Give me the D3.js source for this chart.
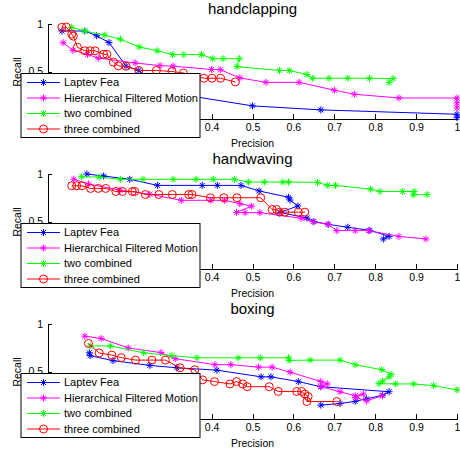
<!DOCTYPE html>
<meta charset="utf-8">
<style>
  body { margin: 0; background: #fff; }
  svg { font-family: "Liberation Sans", Arial, sans-serif; }
  .axis path, .axis line { stroke: #000; shape-rendering: crispEdges; }
  .axis text { font-size: 10.5px; fill: #000; }
  .series { fill: none; stroke-width: 1px; }
</style>
<body>
<div id="chart"></div>
<script src="https://d3js.org/d3.v7.min.js"></script>
<script>
// legend names, colours, markers
const seriesNames = ["Laptev Fea", "Hierarchical Filtered Motion", "two combined", "three combined"];
const seriesColors = ["#0000ff", "#ff00ff", "#00ff00", "#ff0000"];
const seriesMarkers = ["star", "star", "star", "circle"];
const panelTitles = ["handclapping", "handwaving", "boxing"];
const xTicks = [0, 0.1, 0.2, 0.3, 0.4, 0.5, 0.6, 0.7, 0.8, 0.9, 1];
const yTicks = [0, 0.5, 1];

// [precision, recall]
const clapLaptev = [[0.034,0.926],[0.090,0.926],[0.119,0.876],[0.149,0.805],[0.191,0.556],[0.222,0.511],
  [0.298,0.277],[0.500,0.138],[0.667,0.096],[1.0,0.05],[1.0,0.014]];
const clapHFM = [[0.037,0.803],[0.061,0.723],[0.097,0.679],[0.123,0.641],[0.213,0.590],[0.274,0.562],
  [0.306,0.556],[0.400,0.521],[0.421,0.519],[0.469,0.433],[0.533,0.386],[0.614,0.386],[0.700,0.303],
  [0.749,0.261],[0.858,0.221],[1.0,0.221],[1.0,0.17],[1.0,0.117]];
const clapTwo = [[0.058,0.965],[0.090,0.926],[0.139,0.883],[0.177,0.840],[0.223,0.759],[0.267,0.718],
  [0.305,0.678],[0.332,0.678],[0.375,0.678],[0.403,0.635],[0.428,0.635],[0.468,0.635],[0.462,0.551],
  [0.566,0.511],[0.590,0.511],[0.633,0.468],[0.647,0.429],[0.687,0.429],[0.733,0.429],[0.786,0.429],
  [0.844,0.426],[0.834,0.386]];
const clapThree = [[0.034,0.965],[0.045,0.968],[0.058,0.894],[0.062,0.872],[0.072,0.755],[0.090,0.718],
  [0.103,0.718],[0.115,0.718],[0.136,0.681],[0.144,0.681],[0.160,0.599],[0.172,0.559],[0.191,0.555],
  [0.222,0.511],[0.265,0.511],[0.303,0.500],[0.331,0.484],[0.381,0.429],[0.401,0.429],[0.422,0.429],
  [0.458,0.390]];

const waveLaptev = [[0.095,1.0],[0.136,0.979],[0.200,0.944],[0.268,0.880],[0.377,0.880],[0.414,0.880],
  [0.472,0.880],[0.516,0.822],[0.588,0.755],[0.592,0.726],[0.611,0.663],[0.567,0.596],[0.633,0.537],
  [0.650,0.500],[0.685,0.470],[0.733,0.439],[0.787,0.407],[0.834,0.343],[0.820,0.316]];
const waveHFM = [[0.063,0.945],[0.099,0.894],[0.176,0.830],[0.249,0.787],[0.326,0.723],[0.398,0.723],
  [0.432,0.723],[0.469,0.688],[0.498,0.662],[0.461,0.596],[0.482,0.593],[0.518,0.593],[0.619,0.534],
  [0.648,0.497],[0.685,0.471],[0.706,0.404],[0.751,0.404],[0.784,0.404],[0.858,0.343],[0.924,0.316]];
const waveTwo = [[0.082,0.971],[0.125,0.968],[0.177,0.944],[0.232,0.944],[0.306,0.944],[0.362,0.944],
  [0.404,0.944],[0.456,0.944],[0.490,0.915],[0.529,0.915],[0.574,0.915],[0.588,0.915],[0.659,0.912],
  [0.684,0.880],[0.703,0.880],[0.789,0.840],[0.812,0.816],[0.867,0.816],[0.895,0.816],[0.893,0.780],
  [0.927,0.784]];
const waveThree = [[0.058,0.876],[0.070,0.876],[0.083,0.876],[0.104,0.848],[0.123,0.848],[0.141,0.848],
  [0.166,0.816],[0.182,0.816],[0.206,0.816],[0.212,0.816],[0.238,0.784],[0.271,0.784],[0.304,0.784],
  [0.344,0.784],[0.352,0.784],[0.397,0.750],[0.430,0.750],[0.462,0.750],[0.520,0.750],[0.548,0.626],
  [0.559,0.626],[0.566,0.598],[0.579,0.598],[0.612,0.598],[0.628,0.598]];

const boxLaptev = [[0.101,0.697],[0.103,0.667],[0.159,0.614],[0.249,0.564],[0.315,0.539],[0.413,0.514],
  [0.521,0.444],[0.545,0.444],[0.612,0.394],[0.667,0.340],[0.834,0.287],[0.818,0.250],[0.779,0.213],
  [0.751,0.186],[0.714,0.163],[0.667,0.146]];
const boxHFM = [[0.090,0.872],[0.130,0.848],[0.196,0.748],[0.276,0.699],[0.311,0.635],[0.408,0.572],
  [0.447,0.572],[0.515,0.546],[0.548,0.546],[0.592,0.493],[0.667,0.394],[0.683,0.369],[0.667,0.340],
  [0.714,0.287],[0.751,0.245],[0.771,0.263],[0.752,0.227],[0.779,0.191],[0.817,0.245]];
const boxTwo = [[0.103,0.769],[0.153,0.769],[0.234,0.697],[0.303,0.667],[0.364,0.644],[0.465,0.644],
  [0.519,0.644],[0.588,0.644],[0.590,0.617],[0.641,0.620],[0.714,0.620],[0.751,0.571],[0.816,0.519],
  [0.839,0.470],[0.834,0.444],[0.818,0.399],[0.809,0.372],[0.850,0.369],[0.894,0.369],[0.943,0.351],
  [1.0,0.306]];
const boxThree = [[0.099,0.795],[0.125,0.695],[0.156,0.673],[0.179,0.646],[0.214,0.620],[0.254,0.620],
  [0.287,0.620],[0.323,0.539],[0.359,0.518],[0.378,0.412],[0.407,0.394],[0.445,0.369],[0.461,0.394],
  [0.476,0.369],[0.487,0.340],[0.541,0.340],[0.563,0.290],[0.608,0.290],[0.620,0.290],[0.628,0.263],
  [0.636,0.237],[0.633,0.184],[0.706,0.184]];

const panelData = [
  [clapLaptev, clapHFM, clapTwo, clapThree],
  [waveLaptev, waveHFM, waveTwo, waveThree],
  [boxLaptev, boxHFM, boxTwo, boxThree]
];

var width = 460, height = 452, panelH = 150;
var margin = {top: 24, right: 3, bottom: 31, left: 48};
var legendBox = {x: 21, y: 73.5, w: 179, h: 64};

var svg = d3.select("#chart").append("svg")
  .attr("width", width)
  .attr("height", height);

var xScale = d3.scaleLinear().domain([0, 1]).range([margin.left, width - margin.right]);
var yScale = d3.scaleLinear().domain([0, 1]).range([panelH - margin.bottom, margin.top]);

var line = d3.line()
  .x(function(d) { return xScale(d[0]); })
  .y(function(d) { return yScale(d[1]); });

// matlab style '*' marker
var s = 3.5, q = 2.5;
var starPath = "M" + -s + ",0H" + s + "M0," + -s + "V" + s +
  "M" + -q + "," + -q + "L" + q + "," + q + "M" + -q + "," + q + "L" + q + "," + -q;

function marker(g, type, color) {
  if (type == "circle") {
    g.append("circle").attr("r", 4).attr("fill", "none")
      .attr("stroke", color).attr("stroke-width", 1);
  } else {
    g.append("path").attr("d", starPath).attr("fill", "none")
      .attr("stroke", color).attr("stroke-width", 1);
  }
}

panelData.forEach(function(series, p) {
  var g = svg.append("g").attr("transform", "translate(0," + p * panelH + ")");

  var xAxis = d3.axisBottom(xScale)
    .tickValues(xTicks)
    .tickSizeInner(-5)
    .tickSizeOuter(0)
    .tickPadding(5)
    .tickFormat(function(d) { return String(+d.toFixed(1)); });

  var yAxis = d3.axisLeft(yScale)
    .tickValues(yTicks)
    .tickSizeInner(-4)
    .tickSizeOuter(0)
    .tickPadding(5)
    .tickFormat(function(d) { return String(+d.toFixed(1)); });

  var gx = g.append("g").attr("class", "x axis")
    .attr("transform", "translate(0," + yScale(0) + ")")
    .call(xAxis);
  var gy = g.append("g").attr("class", "y axis")
    .attr("transform", "translate(" + xScale(0) + ",0)")
    .call(yAxis);
  g.selectAll(".axis").attr("font-family", null).attr("font-size", null);

  // labels sitting wholly under the legend are not seen, drop them
  gx.selectAll(".tick text").filter(function(d) { return xScale(d) + 8 < legendBox.x + legendBox.w; }).remove();
  gy.selectAll(".tick text").filter(function(d) { return yScale(d) - 4 > legendBox.y; }).remove();

  // title and labels
  var cx = (xScale(0) + xScale(1)) / 2;
  g.append("text").attr("x", cx).attr("y", 14)
    .attr("text-anchor", "middle").style("font-size", "15px").text(panelTitles[p]);
  g.append("text").attr("x", cx).attr("y", 147)
    .attr("text-anchor", "middle").style("font-size", "10.5px").text("Precision");
  g.append("text")
    .attr("transform", "translate(20.5," + (yScale(0.5) + 0.5) + ") rotate(-90)")
    .attr("text-anchor", "middle").style("font-size", "10.5px").text("Recall");

  // series
  series.forEach(function(data, i) {
    g.append("path").datum(data)
      .attr("class", "series")
      .attr("stroke", seriesColors[i])
      .attr("d", line);
    g.selectAll(".m" + i)
      .data(data)
      .enter()
      .append("g")
      .attr("class", "m" + i)
      .attr("transform", function(d) { return "translate(" + xScale(d[0]) + "," + yScale(d[1]) + ")"; })
      .each(function() { marker(d3.select(this), seriesMarkers[i], seriesColors[i]); });
  });

  // legend
  var lg = g.append("g").attr("transform", "translate(" + legendBox.x + "," + legendBox.y + ")");
  lg.append("rect").attr("width", legendBox.w).attr("height", legendBox.h)
    .attr("fill", "#fff").attr("stroke", "#000").attr("stroke-width", 1);
  var rows = [9, 24.5, 40, 55.5];
  seriesNames.forEach(function(name, i) {
    var r = lg.append("g").attr("transform", "translate(0," + rows[i] + ")");
    r.append("line").attr("x1", 6).attr("x2", 39).attr("stroke", seriesColors[i]).attr("stroke-width", 1);
    marker(r.append("g").attr("transform", "translate(22.5,0)"), seriesMarkers[i], seriesColors[i]);
    r.append("text").attr("x", 43).attr("dy", "0.35em").style("font-size", "11px").text(name);
  });
});
</script>
</body>
